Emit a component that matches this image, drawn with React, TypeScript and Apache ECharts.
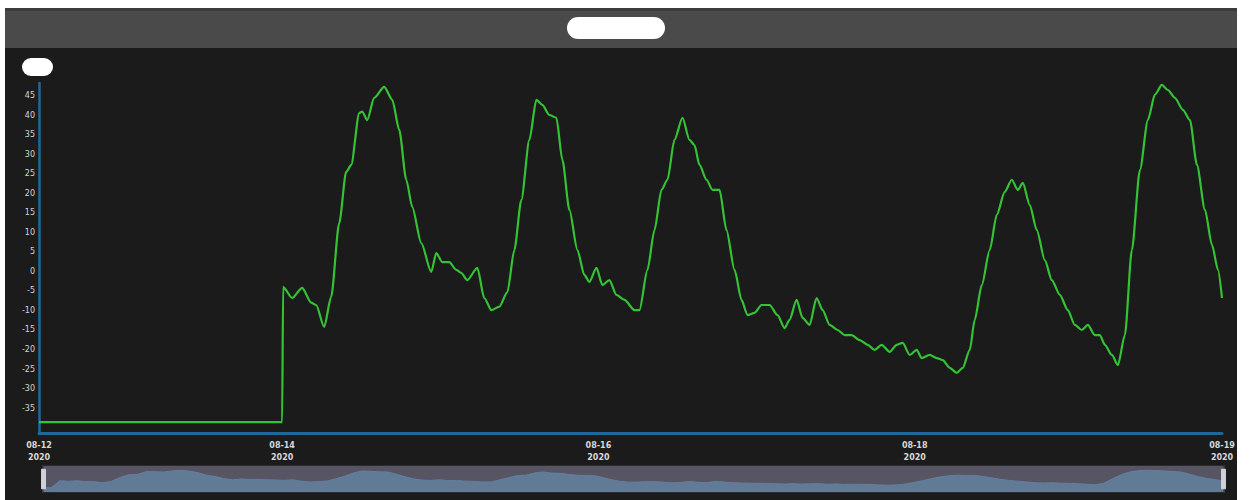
import React, { useEffect, useRef } from "react";
import * as echarts from "echarts";

// hours relative to 2020-08-14 00:00 (UTC)
const HOURS = [
  -36.9, 0.0, 0.15, 1.52, 3.04, 4.41, 5.16, 6.38, 7.44, 8.66, 9.72, 10.48, 11.7, 12.15, 12.91, 13.97,
  15.49, 16.71, 17.77, 18.84, 19.75, 21.11, 22.63, 23.39, 24.3, 25.37, 26.43, 27.19, 28.1, 29.62,
  30.68, 31.75, 32.96, 34.18, 35.24, 36.3, 37.52, 38.58, 39.49, 40.56, 41.62, 42.53, 43.6, 44.81,
  45.87, 46.63, 47.7, 48.61, 49.67, 50.73, 51.95, 53.47, 54.23, 55.44, 56.51, 57.57, 58.48, 59.54,
  60.76, 61.82, 62.58, 63.34, 64.41, 65.32, 66.38, 67.44, 68.66, 69.72, 70.63, 71.7, 72.76, 73.98,
  75.19, 76.25, 77.01, 78.08, 78.99, 80.05, 81.11, 82.03, 83.09, 84.3, 85.37, 86.43, 87.65, 88.86,
  89.92, 90.99, 92.2, 93.27, 94.18, 95.24, 96.3, 97.06, 98.28, 99.34, 100.25, 101.32, 102.38,
  103.29, 104.36, 105.11, 106.18, 107.39, 108.46, 109.67, 110.74, 111.65, 112.41, 113.47, 114.53,
  115.75, 116.81, 118.03, 119.24, 120.3, 121.37, 122.28, 123.34, 124.1, 124.86, 125.93, 126.84,
  127.9, 128.96, 130.18, 131.39, 132.46, 133.52, 134.43, 135.49, 136.71, 137.77, 138.84, 140.05,
  141.12, 142.03, 142.64,
];

const VALUES = [
  -38.6, -38.6, -4, -6.8, -4.2, -8, -8.6, -14.2, -6.5, 12.4, 25.5, 27.3, 40.6, 41, 38.8, 44.5,
  47.3, 44, 36.3, 23.5, 16.5, 7.3, -0.1, 4.7, 2.4, 2.4, 0.4, -0.4, -2.2, 0.9,
  -6.8, -9.9, -9, -5.3, 5.5, 18.3, 33.7, 44, 42.7, 40.1, 39.4, 28.6, 15.8, 5.5,
  -0.9, -2.7, 0.9, -3.5, -2.2, -6, -7.3, -9.9, -9.9, 0.4, 10.6, 20.9, 23.5, 33.7,
  39.4, 33.7, 32.4, 27.3, 23.5, 20.9, 20.9, 10.6, 0.4, -7.3, -11.2, -10.6, -8.6, -8.6,
  -11.2, -14.5, -12.4, -7.3, -11.9, -13.7, -6.8, -9.9, -13.7, -15, -16.3, -16.3, -17.6, -18.8,
  -20.1, -18.8, -20.6, -18.8, -18.3, -21.4, -20.1, -22.2, -21.4, -22.2, -22.7, -24.7, -26,
  -24.7, -20.1, -12.4, -3.5, 5.5, 14.5, 20.4, 23.5, 20.9, 22.7, 17, 10.6,
  2.9, -2.2, -6, -9.9, -13.7, -15, -13.7, -16.3, -16.3, -18.8, -21.4, -24,
  -16.3, 5.5, 26, 38.8, 45.3, 47.8, 46.5, 44.5, 41.4, 38.8, 27.3, 15.8,
  6.8, 0.4, -6.8,
];

const Y_TICKS = [-35, -30, -25, -20, -15, -10, -5, 0, 5, 10, 15, 20, 25, 30, 35, 40, 45];
const X_TICK_HOURS = [-36.9, 0, 48, 96, 142.64];

const BASE = Date.UTC(2020, 7, 14);
const H = 3600000;

function fmt(v: number) {
  const d = new Date(v);
  const mm = String(d.getUTCMonth() + 1).padStart(2, "0");
  const dd = String(d.getUTCDate()).padStart(2, "0");
  return `${mm}-${dd}\n${d.getUTCFullYear()}`;
}

export default function App() {
  const ref = useRef<HTMLDivElement>(null);
  useEffect(() => {
    if (!ref.current) return;
    const chart = echarts.init(ref.current, null, { renderer: "svg" });
    const data = HOURS.map((h, i) => [BASE + h * H, VALUES[i]]);
    const xMin = BASE + X_TICK_HOURS[0] * H;
    const xMax = BASE + X_TICK_HOURS[X_TICK_HOURS.length - 1] * H;
    chart.setOption({
      animation: false,
      backgroundColor: "#1b1b1b",
      graphic: [
        { type: "rect", left: 0, top: 0, shape: { width: 1232, height: 40 }, style: { fill: "#4a4a4a" }, z: 0 },
        { type: "rect", left: 0, top: 0, shape: { width: 1232, height: 3 }, style: { fill: "#3c3c3c" }, z: 1 },
        { type: "rect", left: 562, top: 9, shape: { width: 98, height: 22, r: 11 }, style: { fill: "#ffffff" }, z: 2 },
        { type: "rect", left: 17, top: 50, shape: { width: 31, height: 18, r: 9 }, style: { fill: "#ffffff" }, z: 2 },
      ],
      grid: { left: 34, right: 15, top: 75, bottom: 67, containLabel: false, outerBoundsMode: "none" },
      xAxis: {
        type: "value",
        min: xMin,
        max: xMax,
        splitLine: { show: false },
        axisTick: { show: false },
        axisLine: { show: true, onZero: false, lineStyle: { color: "#1d6a98", width: 3 } },
        axisLabel: {
          customValues: X_TICK_HOURS.map((h) => BASE + h * H),
          formatter: (v: number) => fmt(v),
          color: "#d8d8d8",
          fontSize: 8,
          fontWeight: "bold",
          lineHeight: 12,
          margin: 6,
          fontFamily: "DejaVu Sans",
        },
      },
      yAxis: {
        type: "value",
        min: -41.4,
        max: 48.3,
        splitLine: { show: false },
        axisTick: { show: false },
        axisLine: { show: true, onZero: false, lineStyle: { color: "#1d6a98", width: 2.5 } },
        axisLabel: {
          customValues: Y_TICKS,
          color: "#d4d4d4",
          fontSize: 8,
          margin: 4,
          fontFamily: "DejaVu Sans",
        },
      },
      dataZoom: [
        {
          type: "slider",
          xAxisIndex: 0,
          left: 35,
          right: 15,
          top: 457,
          height: 28,
          start: 0,
          end: 100,
          showDetail: false,
          brushSelect: false,
          moveHandleSize: 0,
          borderColor: "#2a2a30",
          backgroundColor: "#3b3d4a",
          fillerColor: "rgba(130,120,140,0.4)",
          handleIcon: "path://M0,0 h4 v20 h-4 z",
          handleSize: "70%",
          handleStyle: { color: "#d0d0d8", borderColor: "#d0d0d8" },
          dataBackground: {
            lineStyle: { color: "#4f84a8", width: 1 },
            areaStyle: { color: "#4f84a8", opacity: 0.9 },
          },
          selectedDataBackground: {
            lineStyle: { color: "#4f84a8", width: 1 },
            areaStyle: { color: "#4f84a8", opacity: 0.9 },
          },
        },
      ],
      series: [
        {
          type: "line",
          data,
          showSymbol: false,
          symbol: "none",
          smooth: 0.25,
          smoothMonotone: "x",
          lineStyle: { color: "#34c334", width: 2.2 },
          itemStyle: { color: "#34c334" },
        },
      ],
    });
    return () => chart.dispose();
  }, []);
  return (
    <div style={{ position: "fixed", left: 0, top: 0, width: 1249, height: 500, background: "#ffffff" }}>
      <div ref={ref} style={{ position: "absolute", left: 5, top: 8, width: 1232, height: 492 }} />
    </div>
  );
}
